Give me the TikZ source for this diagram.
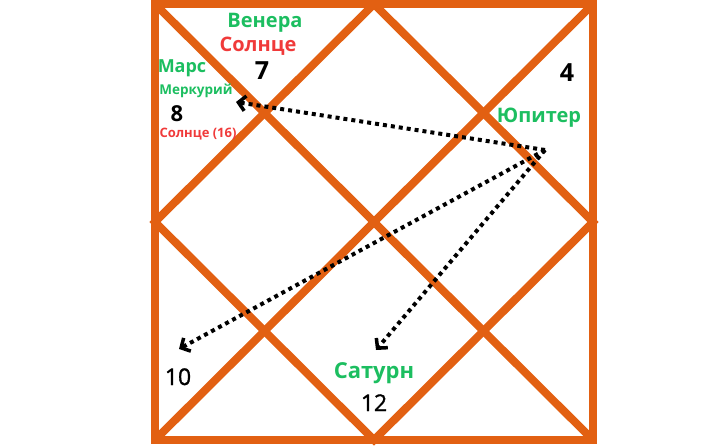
\documentclass[tikz,border=0pt]{standalone}
\usepackage{fontspec}
\setmainfont{Open Sans}
\newfontfamily\semibold[FakeBold=1.2]{Open Sans}
\usetikzlibrary{arrows.meta}
\definecolor{chartorange}{RGB}{226,96,18}
\definecolor{planetgreen}{RGB}{28,190,96}
\definecolor{sunred}{RGB}{240,58,58}
\newcommand{\fsz}[1]{\fontsize{#1}{#1}\selectfont}

\begin{document}
\begin{tikzpicture}[x=1pt,y=-1pt,
    house/.style={draw=chartorange,line width=8pt},
    lbl/.style={anchor=base,inner sep=0pt},
    grahgreen/.style={lbl,text=planetgreen,font=\bfseries\fsz{#1}},
    grahred/.style={lbl,text=sunred,font=\bfseries\fsz{#1}},
    housenum/.style={lbl,font=\bfseries\fsz{#1}},
    housenumb/.style={lbl,font=\semibold\fsz{#1}},
    aspect/.style={line width=4pt,dash pattern=on 4pt off 4pt,
      -{Straight Barb[length=7pt,width=15pt,line width=3.5pt]}}]
  \useasboundingbox (0,0) rectangle (723,446);
  % chart
  \draw[house] (155,4) rectangle (593,440);
  \draw[house] (155,4) -- (593,440) (593,4) -- (155,440);
  \draw[house] (374,4) -- (593,222) -- (374,440) -- (155,222) -- cycle;
  % house 7
  \node[grahgreen=20] (venus) at (265,28) {Венера};
  \node[grahred=20] (sun) at (258,52) {Солнце};
  \node[housenum=25] (h7) at (262,80) {7};
  % house 8
  \node[grahgreen=18] (mars) at (182,73) {Марс};
  \node[grahgreen=13.5] (mercury) at (196,95) {Меркурий};
  \node[housenum=22] (h8) at (177,122) {8};
  \node[grahred=13] (sunb) at (198,138) {Солнце (16)};
  % house 4
  \node[housenum=25] (h4) at (567,82) {4};
  \node[grahgreen=20] (jupiter) at (539,123) {Юпитер};
  % houses 10 and 12
  \node[housenumb=23] (h10) at (178,385) {10};
  \node[grahgreen=22] (saturn) at (374,378) {Сатурн};
  \node[housenumb=23] (h12) at (374,411) {12};
  % aspects of Jupiter
  \coordinate (jup) at (545,150);
  \coordinate (to8) at (236,102);
  \coordinate (to10) at (179,349);
  \coordinate (to12) at (376,350);
  \draw[aspect] (jup) -- (to8);
  \draw[aspect] (jup) -- (to10);
  \draw[aspect] (jup) -- (to12);
\end{tikzpicture}
\end{document}
